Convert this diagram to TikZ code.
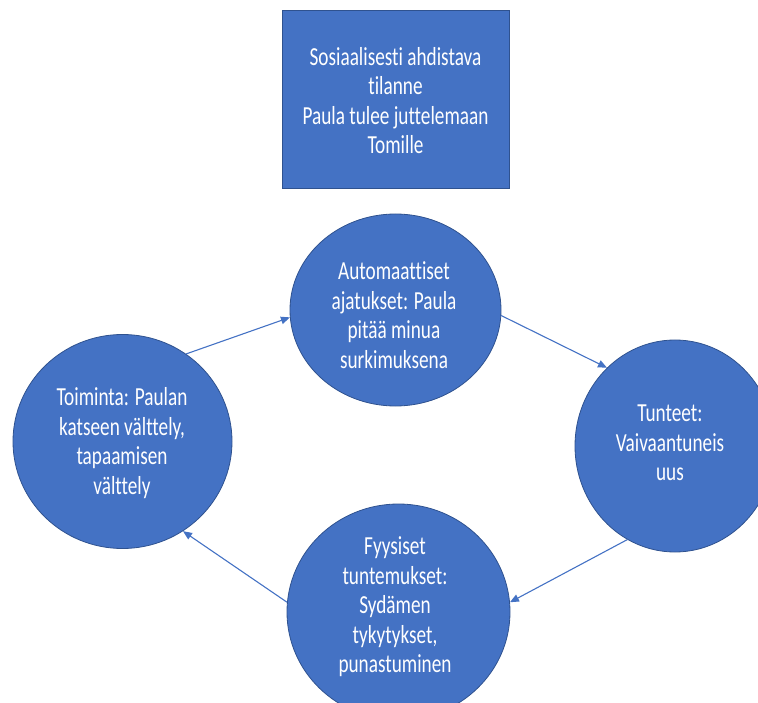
\documentclass[tikz,border=0pt]{standalone}
\usepackage{fontspec}
\setmainfont{Carlito}[FakeStretch=0.74, Ligatures={NoCommon}, Contextuals={NoAlternate}]
\usetikzlibrary{shapes.geometric,arrows.meta}
\definecolor{fillblue}{HTML}{4472C4}
\definecolor{edgeblue}{HTML}{2F528F}
\begin{document}
\begin{tikzpicture}[x=1pt,y=-1pt,
  shapebox/.style={draw=edgeblue, line width=0.8pt, fill=fillblue, inner sep=0pt},
  blob/.style={ellipse, draw=edgeblue, line width=0.8pt, fill=fillblue, inner sep=0pt},
  lbl/.style={text=white, align=center, inner sep=0pt, font=\fontsize{26}{29.5}\selectfont},
  conn/.style={draw=fillblue, line width=1.1pt, -{Triangle[length=9pt,width=7.5pt]}}]
\useasboundingbox (0,0) rectangle (758,703);
% shapes
\node[shapebox, minimum width=227pt, minimum height=178pt] (box) at (395.5,99) {};
\node[blob, minimum width=211pt, minimum height=192pt] (top) at (395.5,310) {};
\node[blob, minimum width=219pt, minimum height=214pt] (left) at (122.5,441.5) {};
\node[blob, minimum width=200pt, minimum height=212pt] (right) at (675,446) {};
\node[blob, minimum width=223pt, minimum height=216pt] (bottom) at (398.5,612) {};
% texts
\node[lbl] (boxT) at (395.5,100.5) {Sosiaalisesti ahdistava\\tilanne\\Paula tulee juttelemaan\\Tomille};
\node[lbl] (topT) at (394,315) {Automaattiset\\ajatukset: Paula\\pitää minua\\surkimuksena};
\node[lbl] (leftT) at (122,443) {Toiminta: Paulan\\katseen välttely,\\tapaamisen\\välttely};
\node[lbl] (rightT) at (670,443) {Tunteet:\\Vaivaantuneis\\uus};
\node[lbl] (bottomT) at (395,607) {Fyysiset\\tuntemukset:\\Sydämen\\tykytykset,\\punastuminen};
% connectors
\draw[conn] (left.54) -- (top.184);
\draw[conn] (top.-3) -- (right.131);
\draw[conn] (right.243) -- (bottom.5);
\draw[conn] (bottom.175) -- (left.-56);
\end{tikzpicture}
\end{document}
